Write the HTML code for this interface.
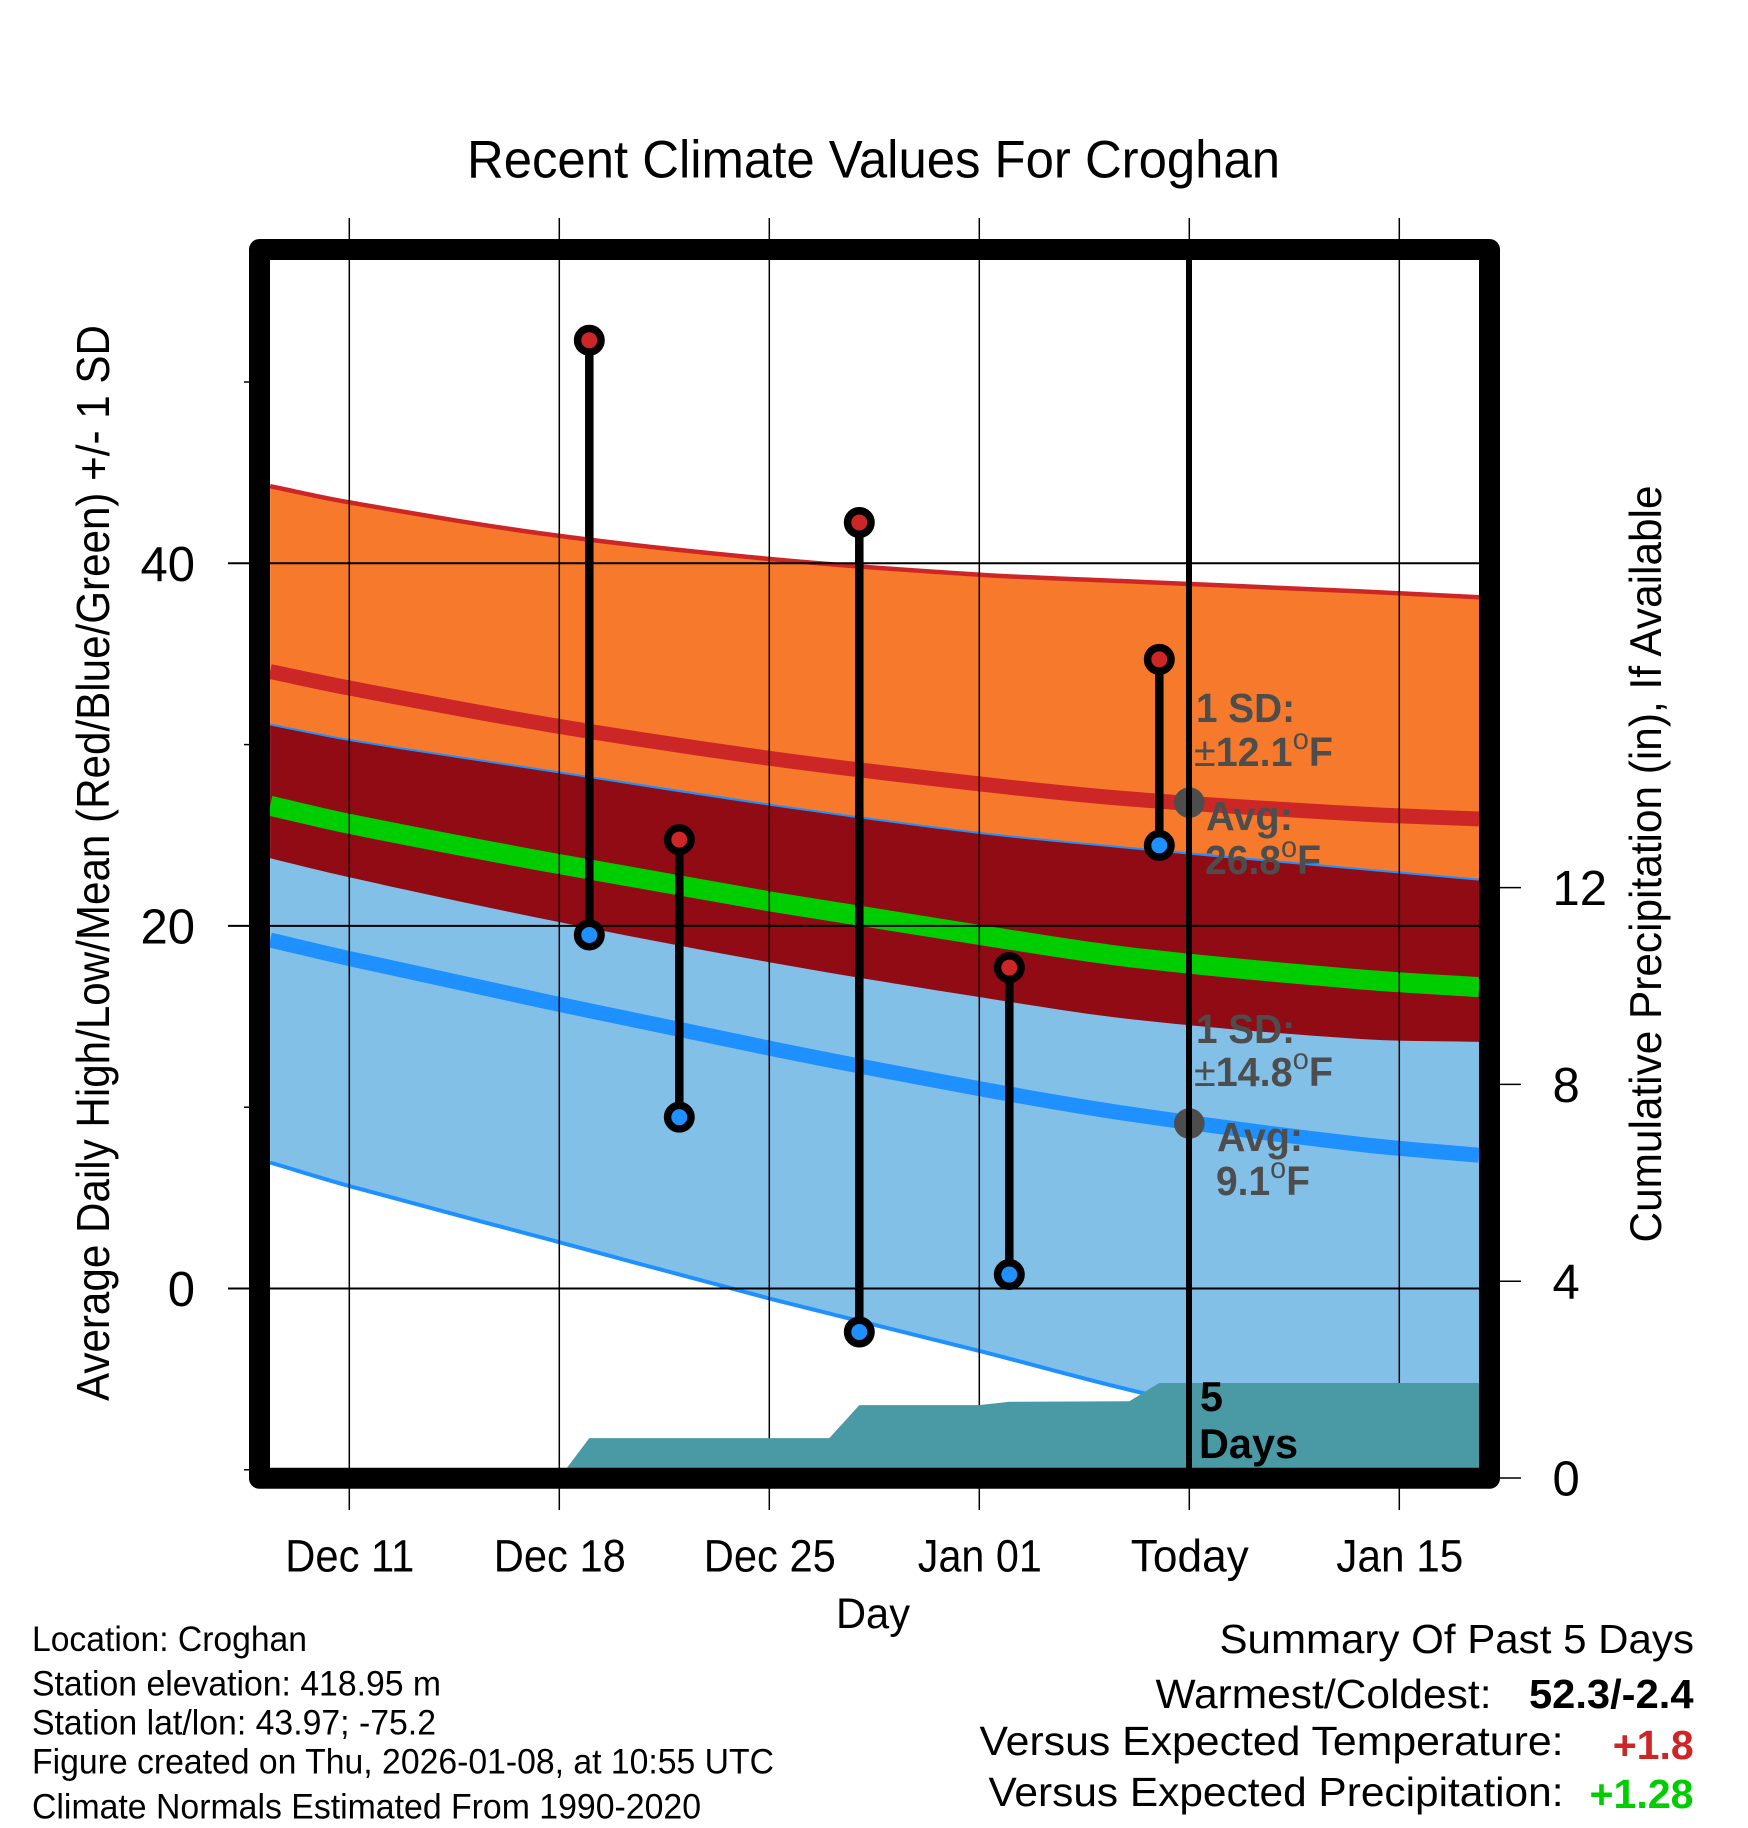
<!DOCTYPE html>
<html lang="en">
<head>
<meta charset="utf-8">
<title>Recent Climate Values For Croghan</title>
<style>
html,body{margin:0;padding:0;background:#fff;width:1748px;height:1828px;overflow:hidden}
svg{display:block;font-family:"Liberation Sans",Arial,sans-serif}
text{fill:#000}
.g{font-weight:bold;font-size:40.5px;fill:#4d4d4d}
.o{font-size:30px;font-weight:normal}
.pm{font-weight:normal}
</style>
</head>
<body>
<svg id="chart" xmlns="http://www.w3.org/2000/svg" width="1748" height="1828" viewBox="0 0 1748 1828">
  <defs><clipPath id="plot-clip"><rect x="270" y="260" width="1209.3" height="1208"/></clipPath></defs>
  <g id="fills" clip-path="url(#plot-clip)"></g>
  <g id="axes"></g>
  <g id="marks"></g>

  <text x="467" y="177.5" font-size="53" textLength="813" lengthAdjust="spacingAndGlyphs">Recent Climate Values For Croghan</text>
  <text transform="translate(109,1401) rotate(-90)" font-size="46.5" textLength="1076" lengthAdjust="spacingAndGlyphs">Average Daily High/Low/Mean (Red/Blue/Green) +/- 1 SD</text>
  <text transform="translate(1661,1242.5) rotate(-90)" font-size="44.5" textLength="757" lengthAdjust="spacingAndGlyphs">Cumulative Precipitation (in), If Available</text>
  <text x="836" y="1628" font-size="43" textLength="74" lengthAdjust="spacingAndGlyphs">Day</text>

  <g>
    <text class="g" x="1196" y="722" textLength="99" lengthAdjust="spacingAndGlyphs">1 SD:</text>
    <text class="g" x="1194" y="766" textLength="139" lengthAdjust="spacingAndGlyphs"><tspan class="pm">±</tspan>12.1<tspan class="o" dy="-17">o</tspan><tspan dy="17">F</tspan></text>
    <text class="g" x="1206" y="830" textLength="87" lengthAdjust="spacingAndGlyphs">Avg:</text>
    <text class="g" x="1205" y="874" textLength="116" lengthAdjust="spacingAndGlyphs">26.8<tspan class="o" dy="-17">o</tspan><tspan dy="17">F</tspan></text>
  </g>
  <g>
    <text class="g" x="1196" y="1043" textLength="99" lengthAdjust="spacingAndGlyphs">1 SD:</text>
    <text class="g" x="1194" y="1086" textLength="139" lengthAdjust="spacingAndGlyphs"><tspan class="pm">±</tspan>14.8<tspan class="o" dy="-17">o</tspan><tspan dy="17">F</tspan></text>
    <text class="g" x="1217" y="1151" textLength="86" lengthAdjust="spacingAndGlyphs">Avg:</text>
    <text class="g" x="1216" y="1195" textLength="94" lengthAdjust="spacingAndGlyphs">9.1<tspan class="o" dy="-17">o</tspan><tspan dy="17">F</tspan></text>
  </g>
  <text x="1200" y="1411" font-size="42" font-weight="bold" textLength="23" lengthAdjust="spacingAndGlyphs">5</text>
  <text x="1199" y="1458" font-size="42" font-weight="bold" textLength="99" lengthAdjust="spacingAndGlyphs">Days</text>

  <g font-size="35">
    <text x="32" y="1651" textLength="275" lengthAdjust="spacingAndGlyphs">Location: Croghan</text>
    <text x="32" y="1695.5" textLength="409" lengthAdjust="spacingAndGlyphs">Station elevation: 418.95 m</text>
    <text x="32" y="1734.5" textLength="404" lengthAdjust="spacingAndGlyphs">Station lat/lon: 43.97; -75.2</text>
    <text x="32" y="1773.5" textLength="742" lengthAdjust="spacingAndGlyphs">Figure created on Thu, 2026-01-08, at 10:55 UTC</text>
    <text x="32" y="1818.5" textLength="669" lengthAdjust="spacingAndGlyphs">Climate Normals Estimated From 1990-2020</text>
  </g>
  <g font-size="41">
    <text x="1219.5" y="1653" textLength="474.5" lengthAdjust="spacingAndGlyphs">Summary Of Past 5 Days</text>
    <text x="1155.5" y="1708" textLength="336" lengthAdjust="spacingAndGlyphs">Warmest/Coldest:</text>
    <text x="1529" y="1708" font-weight="bold" textLength="164.5" lengthAdjust="spacingAndGlyphs">52.3/-2.4</text>
    <text x="979.5" y="1755" textLength="584" lengthAdjust="spacingAndGlyphs">Versus Expected Temperature:</text>
    <text x="1612.7" y="1759" font-weight="bold" textLength="81" lengthAdjust="spacingAndGlyphs" style="fill:#cd2626">+1.8</text>
    <text x="988.5" y="1806" textLength="575" lengthAdjust="spacingAndGlyphs">Versus Expected Precipitation:</text>
    <text x="1589.5" y="1808" font-weight="bold" textLength="104" lengthAdjust="spacingAndGlyphs" style="fill:#00cd00">+1.28</text>
  </g>
</svg>
<script>
// ---- data (days counted from Dec 11) ----
var normalDays   = [-2.64, 0, 6.69, 14.02, 21.02, 26.03, 33.7, 37.66];
var highUpper    = [44.25, 43.36, 41.58, 40.24, 39.37, 39.0, 38.45, 38.13];
var highMean     = [34.03, 33.12, 31.09, 29.24, 27.83, 27.0, 26.17, 25.9];
var highLower    = [23.73, 22.68, 20.31, 17.99, 16.07, 14.86, 13.76, 13.6];
var meanTemp     = [26.63, 25.63, 23.5, 21.35, 19.5, 18.27, 17.05, 16.62];
var lowUpper     = [31.05, 30.2, 28.49, 26.63, 25.07, 24.24, 23.08, 22.5];
var lowMean      = [19.22, 18.2, 15.78, 13.25, 11.02, 9.62, 7.95, 7.35];
var lowLower     = [6.95, 5.65, 2.69, -0.56, -3.45, -5.6, -8.4, -9.6];

var obsDays      = [8, 11, 17, 22, 27];
var obsHigh      = [52.3, 24.76, 42.25, 17.7, 34.7];
var obsLow       = [19.5, 9.45, -2.4, 0.77, 24.44];

var precipDays   = [7, 8, 16, 17, 21, 22, 26, 27, 38];
var precipValues = [0, 0.81, 0.81, 1.48, 1.48, 1.55, 1.56, 1.93, 1.93];

var todayDay     = 28;
var avgHigh      = 26.8;
var avgLow       = 9.1;

var xTickDays    = [0, 7, 14, 21, 28, 35];
var xTickLabels  = ['Dec 11', 'Dec 18', 'Dec 25', 'Jan 01', 'Today', 'Jan 15'];
var xLabelWidths = [129, 132, 132, 124, 118, 127];
var yMajorTicks  = [40, 20, 0];
var yMajorLabels = ['40', '20', '0'];
var yMinorTicks  = [50, 30, 10, -10];
var rightTicks   = [12, 8, 4, 0];
var rightLabels  = ['12', '8', '4', '0'];

// ---- axis functions ----
function xScale(d) { return 349.3 + 30 * d; }
function yScale(v) { return 1288.5 - 18.13 * v; }
function pScale(p) { return 1478 - 49.2 * p; }

var NS = 'http://www.w3.org/2000/svg';
function mk(tag, parent, attrs) {
  var el = document.createElementNS(NS, tag);
  for (var k in attrs) el.setAttribute(k, attrs[k]);
  parent.appendChild(el);
  return el;
}
function pts(days, vals) {
  return days.map(function (d, i) { return [xScale(d), yScale(vals[i])]; });
}
function smooth(p, move) {
  var s = (move ? 'M' : 'L') + p[0][0].toFixed(2) + ' ' + p[0][1].toFixed(2);
  for (var i = 0; i < p.length - 1; i++) {
    var a = p[Math.max(i - 1, 0)], b = p[i], c = p[i + 1], e = p[Math.min(i + 2, p.length - 1)];
    var h = c[0] - b[0];
    var m1 = (c[1] - a[1]) / (c[0] - a[0]);
    var m2 = (e[1] - b[1]) / (e[0] - b[0]);
    s += 'C' + (b[0] + h / 3).toFixed(2) + ' ' + (b[1] + m1 * h / 3).toFixed(2) + ' ' +
         (c[0] - h / 3).toFixed(2) + ' ' + (c[1] - m2 * h / 3).toFixed(2) + ' ' +
         c[0].toFixed(2) + ' ' + c[1].toFixed(2);
  }
  return s;
}
function band(upper, lower) {
  var u = pts(normalDays, upper), l = pts(normalDays, lower).reverse();
  return smooth(u, true) + smooth(l, false) + 'Z';
}
function line(vals) { return smooth(pts(normalDays, vals), true); }

var fills = document.getElementById('fills');
var axes = document.getElementById('axes');
var marks = document.getElementById('marks');
var el;

// bands
el = mk('path', fills, {d: band(highUpper, highLower), fill: '#f77a2c'});


el = mk('path', fills, {d: band(lowUpper, lowLower), fill: '#82c0e8'});


el = mk('path', fills, {d: line(lowUpper), fill: 'none', stroke: '#1e90ff', 'stroke-width': 4});


el = mk('path', fills, {d: band(lowUpper, highLower), fill: '#900b13'});


el = mk('path', fills, {d: line(highUpper), fill: 'none', stroke: '#cd2626', 'stroke-width': 4.5});


el = mk('path', fills, {d: line(lowLower), fill: 'none', stroke: '#1e90ff', 'stroke-width': 4});


el = mk('path', fills, {d: line(highMean), fill: 'none', stroke: '#cd2626', 'stroke-width': 15});


el = mk('path', fills, {d: line(lowMean), fill: 'none', stroke: '#1e90ff', 'stroke-width': 15});


el = mk('path', fills, {d: line(meanTemp), fill: 'none', stroke: '#00cd00', 'stroke-width': 20});



// grid lines and ticks
xTickDays.forEach(function (d, i) {
  var g = mk('line', axes, {x1: xScale(d), x2: xScale(d), y1: 218, y2: 1510, stroke: '#000', 'stroke-width': 1.5});
  
  
  var t = mk('text', axes, {x: xScale(d) - xLabelWidths[i] / 2 + 0.5, y: 1571.5, 'font-size': 45, textLength: xLabelWidths[i], lengthAdjust: 'spacingAndGlyphs'});
  t.textContent = xTickLabels[i];
  
  
});
yMajorTicks.forEach(function (v, i) {
  var g = mk('line', axes, {x1: 228, x2: 1480, y1: yScale(v), y2: yScale(v), stroke: '#000', 'stroke-width': 2});
  
  
  var t = mk('text', axes, {x: 195, y: yScale(v) + 17.5, 'font-size': 49, 'text-anchor': 'end'});
  t.textContent = yMajorLabels[i];
  
  
});
yMinorTicks.forEach(function (v) {
  var g = mk('line', axes, {x1: 244, x2: 260, y1: yScale(v), y2: yScale(v), stroke: '#000', 'stroke-width': 1.5});
  
  
});
rightTicks.forEach(function (p, i) {
  var g = mk('line', axes, {x1: 1490, x2: 1521, y1: pScale(p), y2: pScale(p), stroke: '#000', 'stroke-width': 1.5});
  
  
  var t = mk('text', axes, {x: 1552.5, y: pScale(p) + 17.5, 'font-size': 49});
  t.textContent = rightLabels[i];
  
  
});

// cumulative precipitation area
var area = 'M' + xScale(precipDays[0]) + ' ' + pScale(0);
precipDays.forEach(function (d, i) { area += 'L' + xScale(d) + ' ' + pScale(precipValues[i]); });
area += 'L' + xScale(precipDays[precipDays.length - 1]) + ' ' + pScale(0) + 'Z';
el = mk('path', axes, {d: area, fill: '#4a9aa5', 'clip-path': 'url(#plot-clip)'});



// frame
el = mk('rect', axes, {x: 259.5, y: 249.5, width: 1230, height: 1228.8, fill: 'none', stroke: '#000', 'stroke-width': 21, 'stroke-linejoin': 'round'});



// average dots for today (the today line passes over them)
el = mk('circle', marks, {cx: xScale(todayDay), cy: yScale(avgHigh), r: 15.3, fill: '#4d4d4d'});


el = mk('circle', marks, {cx: xScale(todayDay), cy: yScale(avgLow), r: 15.3, fill: '#4d4d4d'});



// today line
el = mk('line', marks, {x1: xScale(todayDay) - 0.3, x2: xScale(todayDay) - 0.3, y1: 260, y2: 1468, stroke: '#000', 'stroke-width': 6});



// observed high/low bars
obsDays.forEach(function (d, i) {
  var x = xScale(d);
  var bar = mk('line', marks, {x1: x, x2: x, y1: yScale(obsHigh[i]), y2: yScale(obsLow[i]), stroke: '#000', 'stroke-width': 8.5});
  
  
  var hi = mk('circle', marks, {cx: x, cy: yScale(obsHigh[i]), r: 11.75, fill: '#cd2626', stroke: '#000', 'stroke-width': 7.5});
  
  
  var lo = mk('circle', marks, {cx: x, cy: yScale(obsLow[i]), r: 11.75, fill: '#1e90ff', stroke: '#000', 'stroke-width': 7.5});
  
  
});
</script>
</body>
</html>
